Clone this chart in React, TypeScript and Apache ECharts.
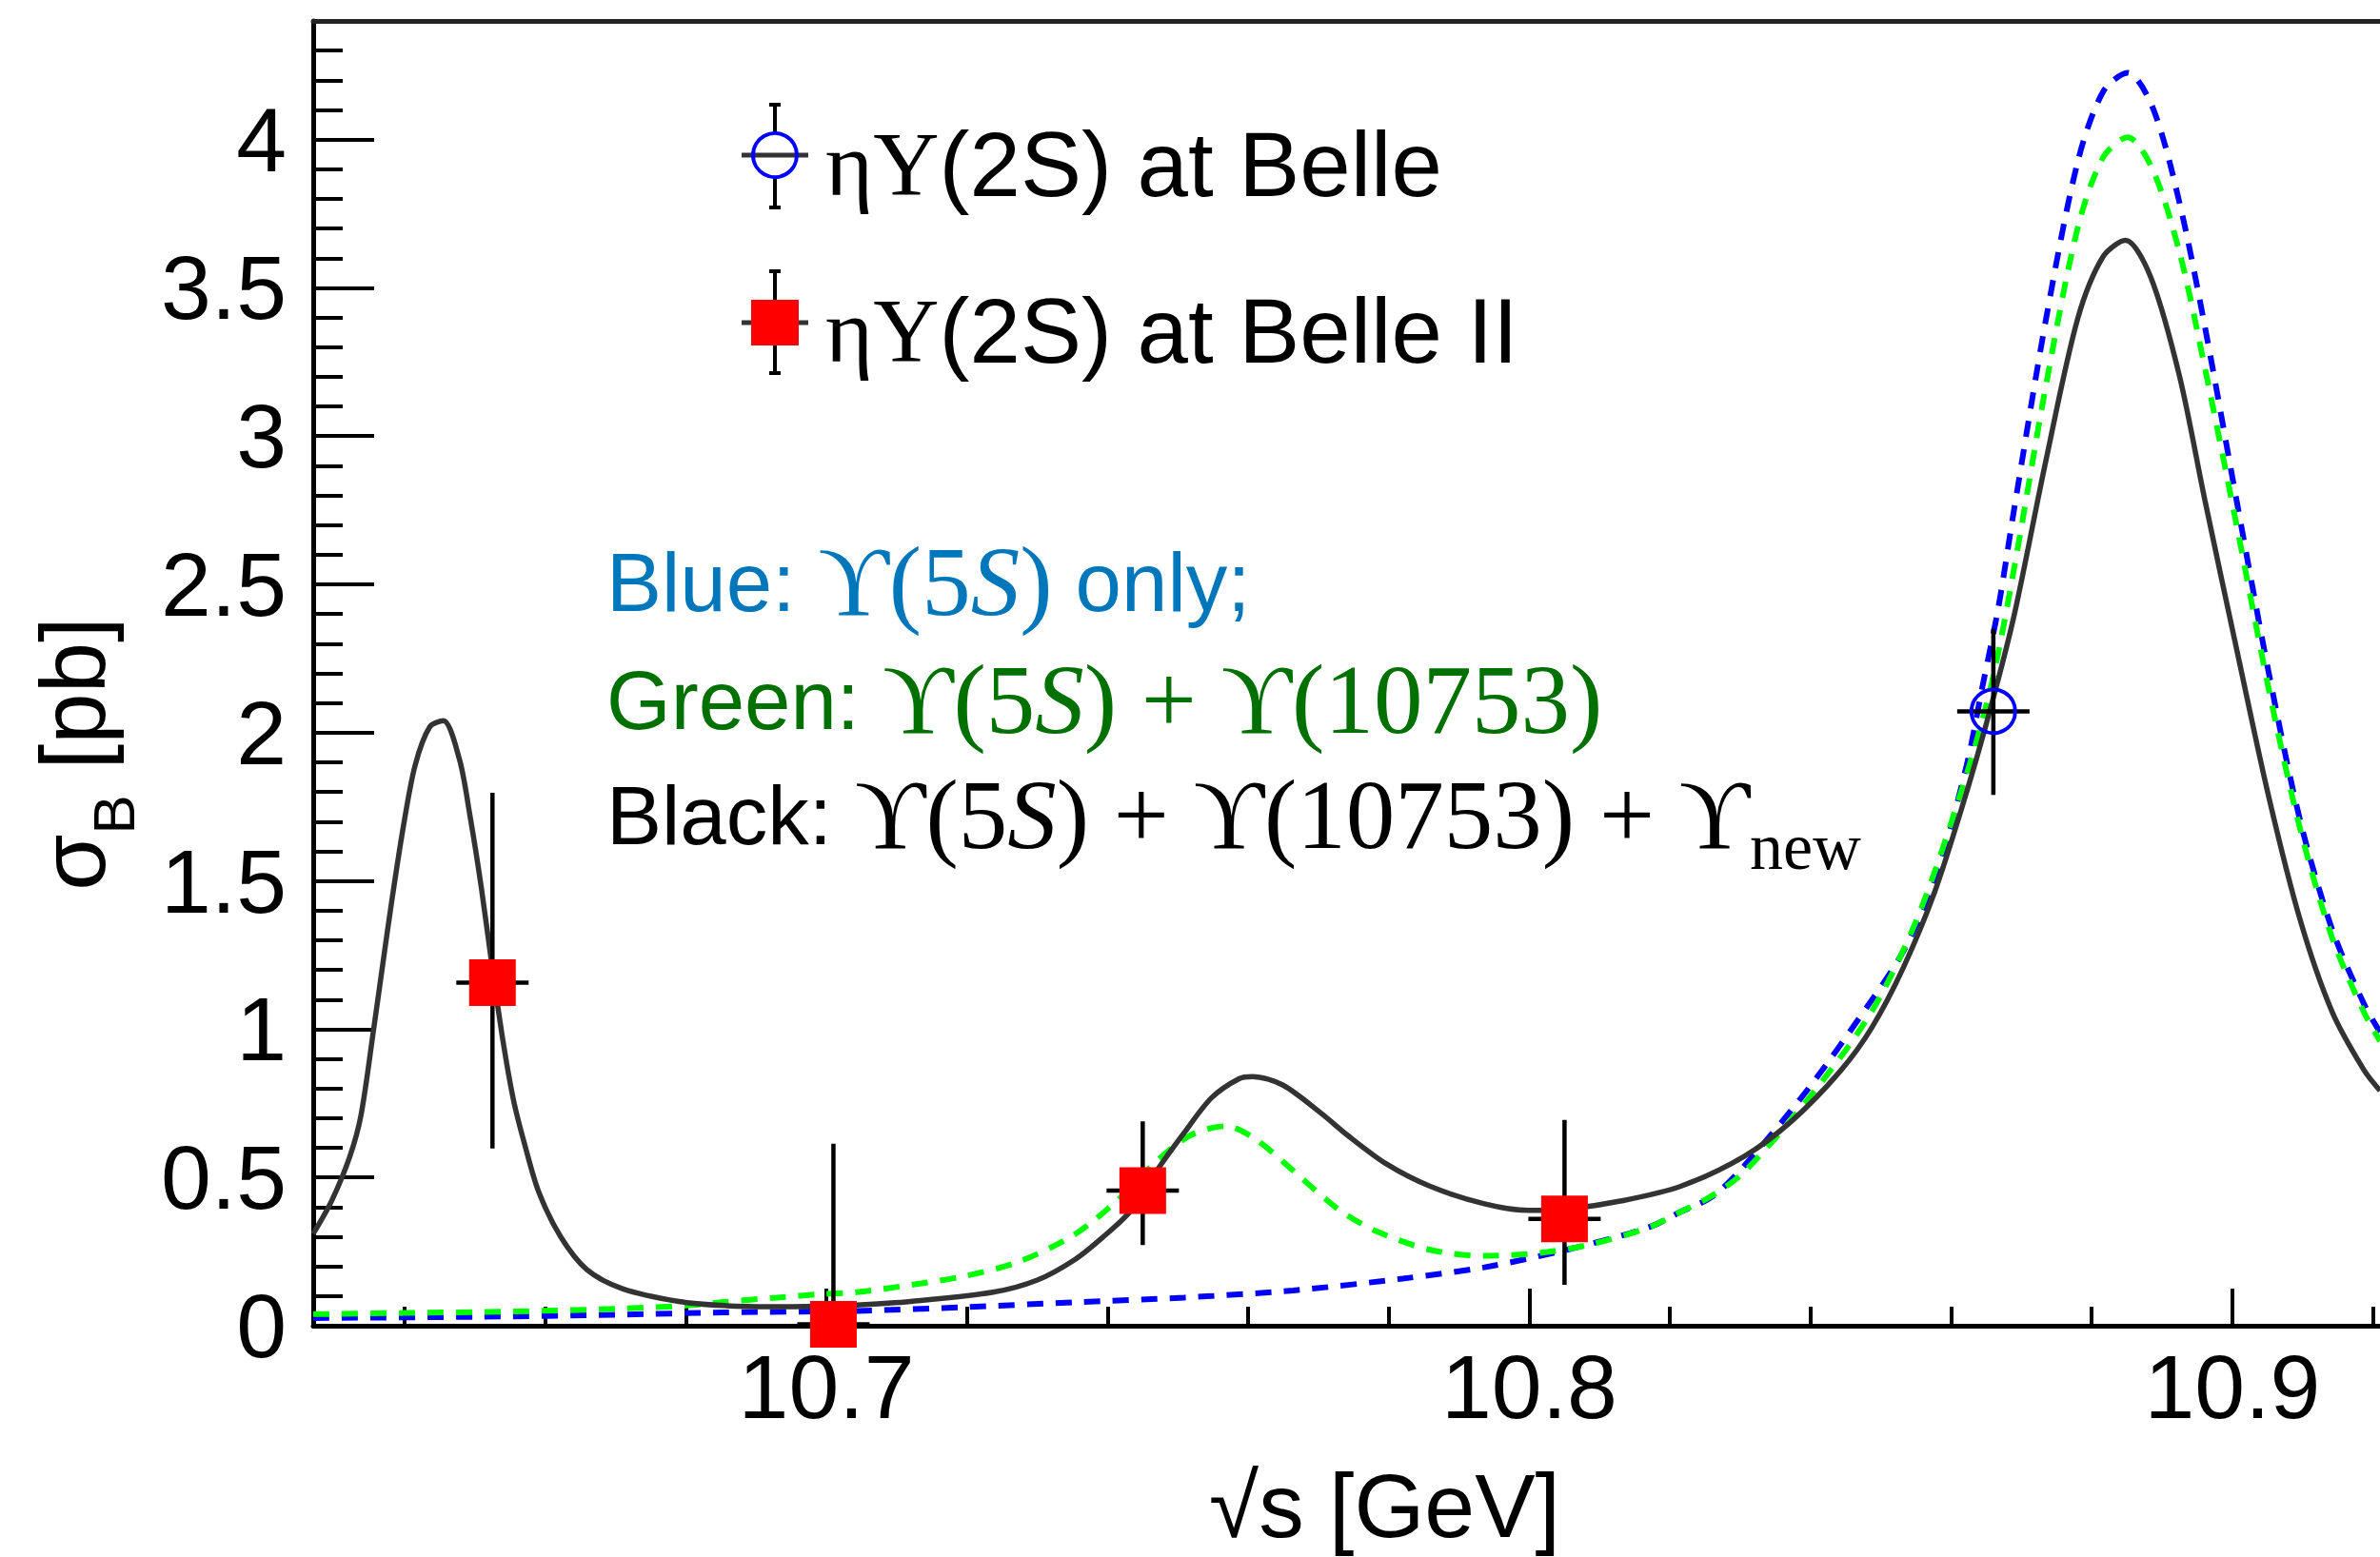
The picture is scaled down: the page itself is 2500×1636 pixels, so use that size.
import React, { useEffect, useRef } from "react";
import * as echarts from "echarts";

// ---------------- axis ranges & ticks ----------------
const X_MIN = 10.627;
const X_MAX = 10.921;
const Y_MIN = 0;
const Y_MAX = 4.4;
const xMajorTicks = [10.7, 10.8, 10.9];
const xMinorTicks = [10.64, 10.66, 10.68, 10.72, 10.74, 10.76, 10.78, 10.82, 10.84, 10.86, 10.88, 10.92];
const yMajorTicks = [0, 0.5, 1, 1.5, 2, 2.5, 3, 3.5, 4];
const yMinorTicks = [
  0.1, 0.2, 0.3, 0.4, 0.6, 0.7, 0.8, 0.9, 1.1, 1.2, 1.3, 1.4, 1.6, 1.7, 1.8, 1.9,
  2.1, 2.2, 2.3, 2.4, 2.6, 2.7, 2.8, 2.9, 3.1, 3.2, 3.3, 3.4, 3.6, 3.7, 3.8, 3.9,
  4.1, 4.2, 4.3,
];

// ---------------- curves ----------------
const blackCurve: [number, number][] = [
  [10.627, 0.31], [10.6296, 0.42], [10.6322, 0.57], [10.6338, 0.71], [10.6356, 1.0],
  [10.6369, 1.22], [10.6381, 1.42], [10.6398, 1.68], [10.6415, 1.89], [10.6436, 2.02],
  [10.6455, 2.04], [10.6478, 1.91], [10.6493, 1.72], [10.6509, 1.48], [10.6524, 1.22],
  [10.654, 0.96], [10.6555, 0.76], [10.6571, 0.61], [10.6591, 0.45], [10.6622, 0.3],
  [10.6659, 0.19], [10.671, 0.125], [10.679, 0.082], [10.6854, 0.068], [10.692, 0.064],
  [10.699, 0.066], [10.7043, 0.07], [10.712, 0.082], [10.7237, 0.113], [10.73, 0.154],
  [10.7354, 0.224], [10.7393, 0.298], [10.7432, 0.385], [10.747, 0.523], [10.7509, 0.651],
  [10.7548, 0.769], [10.7587, 0.833], [10.7606, 0.84], [10.7649, 0.812], [10.7704, 0.716],
  [10.7742, 0.641], [10.7797, 0.545], [10.7859, 0.47], [10.7936, 0.411], [10.7999, 0.389],
  [10.8053, 0.393], [10.8131, 0.421], [10.8216, 0.471], [10.8306, 0.572], [10.8374, 0.692],
  [10.8442, 0.858], [10.8487, 1.005], [10.8532, 1.208], [10.8577, 1.466], [10.8622, 1.8],
  [10.8658, 2.1], [10.869, 2.4], [10.8735, 2.92], [10.878, 3.396], [10.8816, 3.605],
  [10.8848, 3.66], [10.8884, 3.535], [10.8925, 3.2], [10.8961, 2.783], [10.9006, 2.282],
  [10.9052, 1.781], [10.9097, 1.364], [10.9142, 1.058], [10.9187, 0.863], [10.921, 0.793],
];

const greenCurve: [number, number][] = [
  [10.627, 0.039], [10.64, 0.043], [10.655, 0.048], [10.67, 0.057], [10.68, 0.068],
  [10.6854, 0.08], [10.693, 0.095], [10.6995, 0.107], [10.7043, 0.113], [10.7121, 0.138],
  [10.7198, 0.168], [10.7276, 0.218], [10.7354, 0.309], [10.7416, 0.427], [10.747, 0.555],
  [10.7517, 0.641], [10.7568, 0.673], [10.761, 0.63], [10.7664, 0.523], [10.7727, 0.395],
  [10.7781, 0.32], [10.7859, 0.256], [10.7936, 0.236], [10.8014, 0.245], [10.8092, 0.277],
  [10.8169, 0.331], [10.8216, 0.385], [10.8261, 0.44], [10.8306, 0.52], [10.8397, 0.766],
  [10.8487, 1.06], [10.8555, 1.393], [10.8622, 1.86], [10.8658, 2.17], [10.869, 2.56],
  [10.8735, 3.173], [10.878, 3.702], [10.8816, 3.939], [10.8851, 4.008], [10.8887, 3.897],
  [10.8925, 3.618], [10.8961, 3.229], [10.9006, 2.7], [10.9052, 2.144], [10.9097, 1.67],
  [10.9142, 1.308], [10.9187, 1.058], [10.921, 0.96],
];

const blueCurve: [number, number][] = [
  [10.627, 0.026], [10.65, 0.03], [10.67, 0.037], [10.6854, 0.045], [10.7043, 0.05],
  [10.7198, 0.063], [10.7354, 0.079], [10.7509, 0.095], [10.7664, 0.119], [10.782, 0.159],
  [10.7936, 0.197], [10.8053, 0.256], [10.8169, 0.331], [10.8216, 0.385], [10.8261, 0.437],
  [10.8306, 0.54], [10.8397, 0.8], [10.8487, 1.098], [10.8532, 1.263], [10.8577, 1.503],
  [10.8622, 1.89], [10.8644, 2.15], [10.8667, 2.42], [10.869, 2.76], [10.8735, 3.396],
  [10.878, 3.925], [10.8816, 4.161], [10.8851, 4.225], [10.8887, 4.106], [10.8925, 3.785],
  [10.8961, 3.368], [10.9006, 2.783], [10.9052, 2.199], [10.9097, 1.698], [10.9142, 1.336],
  [10.9187, 1.086], [10.921, 0.99],
];

// ---------------- measurements ----------------
const belle2X = [10.6525, 10.701, 10.745, 10.805];
const belle2Y = [1.157, 0.005, 0.456, 0.36];
const belle2Lo = [0.598, 0, 0.272, 0.138];
const belle2Hi = [1.797, 0.614, 0.689, 0.694];

const belleX = [10.866];
const belleY = [2.072];
const belleLo = [1.79];
const belleHi = [2.35];

const SANS = "Liberation Sans, Arial, Helvetica, sans-serif";
const SERIF = "Liberation Serif, DejaVu Serif, Times New Roman, serif";

function errorSeries(xs: number[], ys: number[], lo: number[], hi: number[]) {
  return {
    type: "custom",
    xAxisIndex: 0,
    yAxisIndex: 0,
    clip: false,
    z: 5,
    silent: true,
    data: xs.map((x, i) => [x, ys[i], lo[i], hi[i]]),
    renderItem: (_params: any, api: any) => {
      const p = api.coord([api.value(0), api.value(1)]);
      const l = api.coord([api.value(0), api.value(2)]);
      const h = api.coord([api.value(0), api.value(3)]);
      const st = { stroke: "#000", lineWidth: 4.5 };
      return {
        type: "group",
        children: [
          { type: "line", shape: { x1: p[0], y1: l[1], x2: p[0], y2: h[1] }, style: st },
          { type: "line", shape: { x1: p[0] - 38, y1: p[1], x2: p[0] + 38, y2: p[1] }, style: st },
        ],
      };
    },
  };
}

export default function App() {
  const ref = useRef<HTMLDivElement>(null);

  useEffect(() => {
    document.body.style.margin = "0";
    const chart = echarts.init(ref.current!, undefined, { renderer: "svg" });

    const axisLineStyle = { color: "#000", width: 5 };
    const tickStyle = { color: "#000", width: 4 };

    const option: any = {
      animation: false,
      backgroundColor: "#ffffff",
      grid: { left: 329, top: 22, right: 0, bottom: 243, containLabel: false },
      xAxis: [
        {
          type: "value",
          min: X_MIN,
          max: X_MAX,
          position: "bottom",
          axisLine: { show: true, lineStyle: axisLineStyle },
          axisTick: { show: true, inside: true, length: 39, lineStyle: tickStyle, customValues: xMajorTicks },
          axisLabel: {
            show: true,
            customValues: xMajorTicks,
            formatter: (v: number) => v.toFixed(1),
            fontSize: 95,
            fontFamily: SANS,
            color: "#000",
            margin: 16,
          },
          splitLine: { show: false },
        },
        {
          type: "value",
          min: X_MIN,
          max: X_MAX,
          position: "bottom",
          axisLine: { show: false },
          axisTick: { show: true, inside: true, length: 20, lineStyle: tickStyle, customValues: xMinorTicks },
          axisLabel: { show: false },
          splitLine: { show: false },
        },
        {
          type: "value",
          min: X_MIN,
          max: X_MAX,
          position: "top",
          axisLine: { show: true, lineStyle: { color: "#222", width: 5 } },
          axisTick: { show: false },
          axisLabel: { show: false },
          splitLine: { show: false },
        },
      ],
      yAxis: [
        {
          type: "value",
          min: Y_MIN,
          max: Y_MAX,
          position: "left",
          axisLine: { show: true, lineStyle: axisLineStyle },
          axisTick: { show: true, inside: true, length: 64, lineStyle: tickStyle, customValues: yMajorTicks },
          axisLabel: {
            show: true,
            customValues: yMajorTicks,
            formatter: (v: number) => String(v),
            fontSize: 95,
            fontFamily: SANS,
            color: "#000",
            margin: 28,
          },
          splitLine: { show: false },
        },
        {
          type: "value",
          min: Y_MIN,
          max: Y_MAX,
          position: "left",
          axisLine: { show: false },
          axisTick: { show: true, inside: true, length: 31, lineStyle: tickStyle, customValues: yMinorTicks },
          axisLabel: { show: false },
          splitLine: { show: false },
        },
      ],
      series: [
        {
          type: "line",
          name: "blue",
          data: blueCurve,
          xAxisIndex: 0,
          yAxisIndex: 0,
          showSymbol: false,
          symbol: "none",
          smooth: 0.3,
          z: 2,
          lineStyle: { color: "#0000ff", width: 6, type: [17, 13] },
        },
        {
          type: "line",
          name: "green",
          data: greenCurve,
          xAxisIndex: 0,
          yAxisIndex: 0,
          showSymbol: false,
          symbol: "none",
          smooth: 0.3,
          z: 3,
          lineStyle: { color: "#00ff00", width: 6, type: [17, 13] },
        },
        {
          type: "line",
          name: "black",
          data: blackCurve,
          xAxisIndex: 0,
          yAxisIndex: 0,
          showSymbol: false,
          symbol: "none",
          smooth: 0.3,
          z: 4,
          lineStyle: { color: "#333333", width: 5.5 },
        },
        errorSeries(belle2X, belle2Y, belle2Lo, belle2Hi),
        errorSeries(belleX, belleY, belleLo, belleHi),
        {
          type: "scatter",
          name: "Belle II",
          xAxisIndex: 0,
          yAxisIndex: 0,
          clip: false,
          z: 6,
          symbol: "rect",
          symbolSize: 49,
          itemStyle: { color: "#ff0000", opacity: 1 },
          data: belle2X.map((x, i) => [x, belle2Y[i]]),
        },
        {
          type: "scatter",
          name: "Belle",
          xAxisIndex: 0,
          yAxisIndex: 0,
          clip: false,
          z: 6,
          symbol: "circle",
          symbolSize: 46,
          itemStyle: { color: "rgba(0,0,0,0)", borderColor: "#0000ff", borderWidth: 4, opacity: 1 },
          data: belleX.map((x, i) => [x, belleY[i]]),
        },
      ],
      graphic: [
        // legend entry 1: open blue circle with error bars
        { type: "line", shape: { x1: 814, y1: 110, x2: 814, y2: 139 }, style: { stroke: "#000", lineWidth: 4 } },
        { type: "line", shape: { x1: 814, y1: 187, x2: 814, y2: 218 }, style: { stroke: "#000", lineWidth: 4 } },
        { type: "line", shape: { x1: 808, y1: 110, x2: 820, y2: 110 }, style: { stroke: "#000", lineWidth: 4 } },
        { type: "line", shape: { x1: 808, y1: 218, x2: 820, y2: 218 }, style: { stroke: "#000", lineWidth: 4 } },
        { type: "line", shape: { x1: 779, y1: 163, x2: 849, y2: 163 }, style: { stroke: "#333", lineWidth: 5 } },
        { type: "circle", shape: { cx: 814, cy: 163, r: 23 }, style: { fill: "none", stroke: "#0000ff", lineWidth: 4 } },
        // legend entry 2: red square with error bars
        { type: "line", shape: { x1: 814, y1: 285, x2: 814, y2: 392 }, style: { stroke: "#000", lineWidth: 4 } },
        { type: "line", shape: { x1: 808, y1: 285, x2: 820, y2: 285 }, style: { stroke: "#000", lineWidth: 4 } },
        { type: "line", shape: { x1: 808, y1: 392, x2: 820, y2: 392 }, style: { stroke: "#000", lineWidth: 4 } },
        { type: "line", shape: { x1: 779, y1: 339, x2: 849, y2: 339 }, style: { stroke: "#333", lineWidth: 5 } },
        { type: "rect", shape: { x: 789, y: 315, width: 50, height: 48 }, style: { fill: "#ff0000" } },
        {
          type: "text",
          x: 867,
          y: 172,
          style: {
            text: "{g|ηΥ}{s|(2S) at Belle}",
            align: "left",
            verticalAlign: "middle",
            rich: {
              g: { fontFamily: SERIF, fontSize: 96, fill: "#000", color: "#000" },
              s: { fontFamily: SANS, fontSize: 96, fill: "#000", color: "#000" },
            },
          },
        },
        {
          type: "text",
          x: 867,
          y: 347,
          style: {
            text: "{g|ηΥ}{s|(2S) at Belle II}",
            align: "left",
            verticalAlign: "middle",
            rich: {
              g: { fontFamily: SERIF, fontSize: 96, fill: "#000", color: "#000" },
              s: { fontFamily: SANS, fontSize: 96, fill: "#000", color: "#000" },
            },
          },
        },
        // annotation lines
        {
          type: "text",
          x: 637,
          y: 611,
          style: {
            text: "{t|Blue: }{m|ϒ(5}{mi|S}{m|)}{t| only;}",
            align: "left",
            verticalAlign: "middle",
            rich: {
              t: { fontFamily: SANS, fontSize: 87, fill: "#0077bb", color: "#0077bb" },
              m: { fontFamily: SERIF, fontSize: 103, fill: "#0077bb", color: "#0077bb" },
              mi: { fontFamily: SERIF, fontStyle: "italic", fontSize: 103, fill: "#0077bb", color: "#0077bb" },
            },
          },
        },
        {
          type: "text",
          x: 637,
          y: 735,
          style: {
            text: "{t|Green: }{m|ϒ(5}{mi|S}{m|) + ϒ(10753)}",
            align: "left",
            verticalAlign: "middle",
            rich: {
              t: { fontFamily: SANS, fontSize: 87, fill: "#007000", color: "#007000" },
              m: { fontFamily: SERIF, fontSize: 103, fill: "#007000", color: "#007000" },
              mi: { fontFamily: SERIF, fontStyle: "italic", fontSize: 103, fill: "#007000", color: "#007000" },
            },
          },
        },
        {
          type: "text",
          x: 637,
          y: 856,
          style: {
            text: "{t|Black: }{m|ϒ(5}{mi|S}{m|) + ϒ(10753) + ϒ}{sub|new}",
            align: "left",
            verticalAlign: "middle",
            rich: {
              t: { fontFamily: SANS, fontSize: 87, fill: "#000", color: "#000" },
              m: { fontFamily: SERIF, fontSize: 103, fill: "#000", color: "#000" },
              mi: { fontFamily: SERIF, fontStyle: "italic", fontSize: 103, fill: "#000", color: "#000" },
              sub: { fontFamily: SERIF, fontSize: 70, fill: "#000", color: "#000", padding: [66, 0, 0, 0] },
            },
          },
        },
        // axis titles
        {
          type: "text",
          x: 1270,
          y: 1582,
          style: {
            text: "√s [GeV]",
            fontFamily: SANS,
            fontSize: 95,
            fill: "#000",
            align: "left",
            verticalAlign: "middle",
          },
        },
        {
          type: "text",
          x: 76,
          y: 792,
          rotation: Math.PI / 2,
          style: {
            text: "{a|σ}{b|B}{a| [pb]}",
            align: "center",
            verticalAlign: "middle",
            rich: {
              a: { fontFamily: SANS, fontSize: 96, fill: "#000", color: "#000" },
              b: { fontFamily: SANS, fontSize: 62, fill: "#000", color: "#000", padding: [86, 0, 0, 0] },
            },
          },
        },
      ],
    };

    chart.setOption(option);
    return () => chart.dispose();
  }, []);

  return (
    <div
      ref={ref}
      style={{ position: "absolute", left: 0, top: 0, width: 2500, height: 1636, background: "#fff" }}
    />
  );
}
